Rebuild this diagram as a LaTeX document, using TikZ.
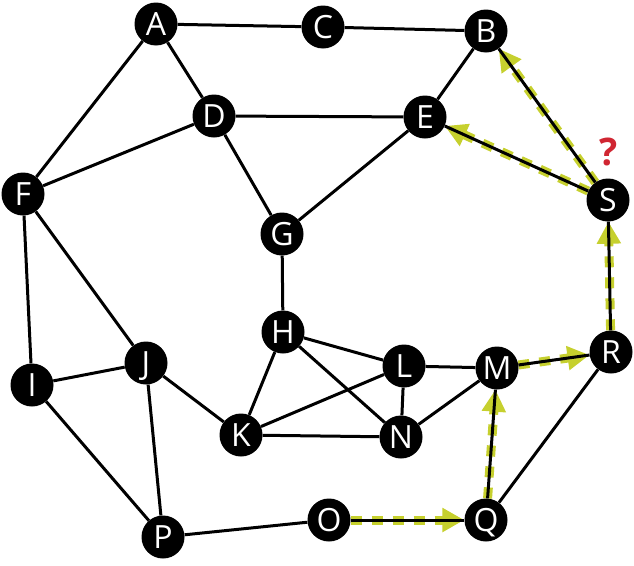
\documentclass[tikz,border=0pt]{standalone}
\usepackage{fontspec}
\newfontfamily\nodefont{Open Sans}
\usetikzlibrary{arrows.meta}
\definecolor{pathgreen}{RGB}{198,208,46}
\definecolor{qred}{RGB}{208,38,50}
\pgfdeclarelayer{bg}
\pgfdeclarelayer{mid}
\pgfsetlayers{bg,mid,main}
\tikzset{
  vert/.style={circle, fill=black, minimum size=43pt, inner sep=0pt, text=white,
    font=\nodefont\fontsize{32}{32}\selectfont, text height=22.5pt, text depth=0pt},
  edge/.style={line width=3pt, black},
  garrow/.style={line width=9pt, pathgreen, dash pattern=on 11pt off 10pt,
    -{Triangle[length=22pt,width=23pt]}},
}
\begin{document}
\begin{tikzpicture}[x=1pt,y=-1pt]
\useasboundingbox (0,0) rectangle (634,565);
\node[vert] (A) at (156,24) {A};
\node[vert] (C) at (323,27) {C};
\node[vert] (B) at (486,31) {B};
\node[vert] (D) at (214,116) {D};
\node[vert] (E) at (425,117) {E};
\node[vert] (F) at (23,194) {F};
\node[vert] (S) at (608,200) {S};
\node[vert] (G) at (282,234) {G};
\node[vert] (H) at (283,332) {H};
\node[vert] (J) at (146,363) {J};
\node[vert] (I) at (32,385) {I};
\node[vert] (L) at (404,366) {L};
\node[vert] (M) at (497,368) {M};
\node[vert] (R) at (611,352) {R};
\node[vert] (K) at (241,435) {K};
\node[vert] (N) at (401,437) {N};
\node[vert] (O) at (329,520) {O};
\node[vert] (Q) at (486,520) {Q};
\node[vert] (P) at (163,537) {P};
\node[text=qred, font=\nodefont\bfseries\fontsize{38}{38}\selectfont, inner sep=0pt] (qm) at (609,152) {?};
\begin{pgfonlayer}{mid}
\foreach \u/\v in {A/C, C/B, A/F, A/D, D/E, D/F, D/G, B/E, B/S, E/S, E/G, F/J, F/I,
  G/H, H/K, H/L, H/N, J/I, J/K, J/P, I/P, K/L, K/N, L/N, L/M, M/N, M/R, M/Q,
  R/S, R/Q, O/Q, O/P}
  \draw[edge] (\u) -- (\v);
\end{pgfonlayer}
\begin{pgfonlayer}{bg}
\draw[garrow] (S) -- (B);
\draw[garrow] (S) -- (E);
\draw[garrow] (R) -- (S);
\draw[garrow] (M) -- (R);
\draw[garrow] (Q) -- (M);
\draw[garrow] (O) -- (Q);
\end{pgfonlayer}
\end{tikzpicture}
\end{document}
